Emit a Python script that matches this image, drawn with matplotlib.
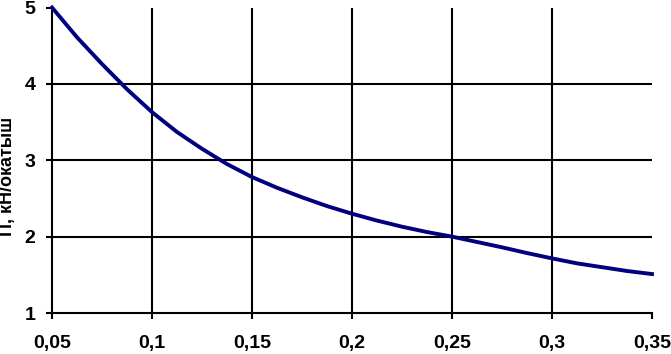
import matplotlib.pyplot as plt

# values
x = [0.05, 0.0625, 0.075, 0.0875, 0.1, 0.1125, 0.125, 0.1375, 0.15, 0.1625,
     0.175, 0.1875, 0.2, 0.2125, 0.225, 0.2375, 0.25, 0.2625, 0.275, 0.2875,
     0.3, 0.3125, 0.325, 0.3375, 0.35]
p = [5.00, 4.61, 4.26, 3.93, 3.63, 3.37, 3.15, 2.95, 2.78, 2.64,
     2.515, 2.40, 2.30, 2.21, 2.13, 2.06, 2.00, 1.93, 1.86, 1.785,
     1.715, 1.65, 1.60, 1.55, 1.51]

xticks = [0.05, 0.1, 0.15, 0.2, 0.25, 0.3, 0.35]
xlabels = ['0,05', '0,1', '0,15', '0,2', '0,25', '0,3', '0,35']
yticks = [1, 2, 3, 4, 5]

plt.rcParams['font.family'] = ['Liberation Sans', 'DejaVu Sans']

fig = plt.figure(figsize=(6.71, 3.54), dpi=100)
ax = fig.add_axes([52/671, 41/354, 600/671, 305.5/354])

# grid only at the inner ticks
for gx in xticks[1:-1]:
    ax.axvline(gx, color='black', lw=1.5, zorder=1)
for gy in yticks[1:-1]:
    ax.axhline(gy, color='black', lw=1.5, zorder=1)

ax.plot(x, p, color='#000080', lw=2.8, zorder=3, clip_on=False,
        solid_joinstyle='round')

ax.set_xlim(0.05, 0.35)
ax.set_ylim(1, 5)
ax.set_xticks(xticks)
ax.set_xticklabels(xlabels)
ax.set_yticks(yticks)
ax.tick_params(direction='out', length=4, width=1.5, labelsize=14)
ax.tick_params(axis='x', pad=12)
ax.tick_params(axis='y', pad=8)
for lab in ax.get_xticklabels() + ax.get_yticklabels():
    lab.set_fontweight('bold')

ax.spines['top'].set_visible(False)
ax.spines['right'].set_visible(False)
ax.spines['left'].set_linewidth(1.5)
ax.spines['bottom'].set_linewidth(1.5)

fig.text(8/671, 1 - 176/354, 'П, кН/окатыш', rotation=90, fontsize=13,
         fontweight='bold', ha='center', va='center')

fig.savefig('out.png', dpi=100)
